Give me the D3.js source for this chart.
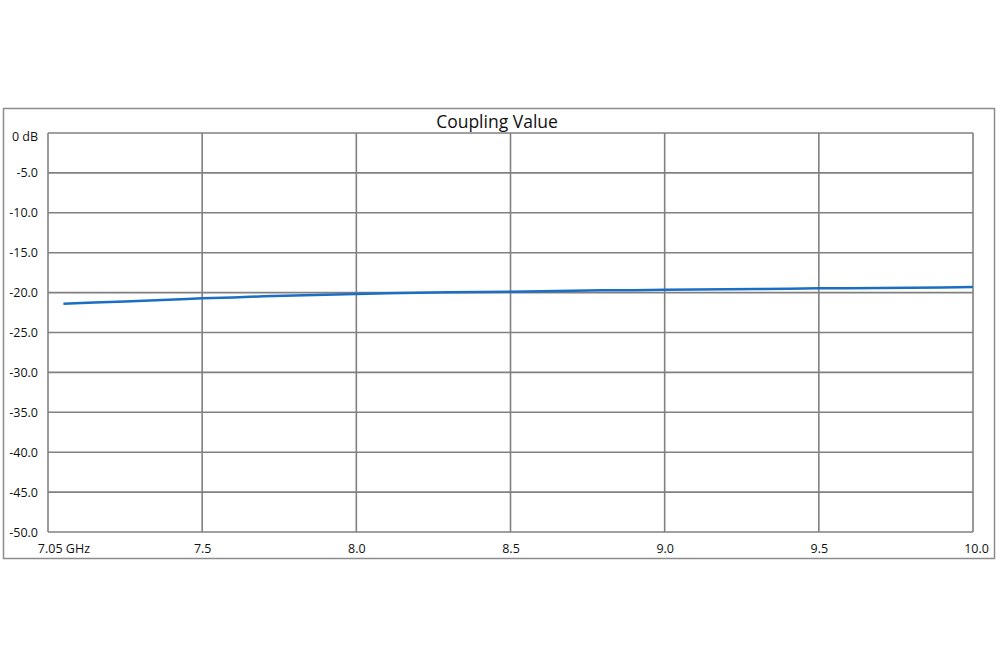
<!DOCTYPE html>
<html>
<head>
<meta charset="utf-8">
<script src="https://cdn.jsdelivr.net/npm/d3@7"></script>
<style>
  body { margin: 0; background: #fff; }
  svg text { font-family: "Open Sans", "Noto Sans", sans-serif; fill: #111; }
</style>
</head>
<body>
<div id="chart"></div>
<script>
var freqs = [7.05, 7.15, 7.25, 7.35, 7.45, 7.5, 7.6, 7.7, 7.8, 7.9, 8.0, 8.1, 8.2, 8.3, 8.4, 8.5,
             8.6, 8.7, 8.8, 8.9, 9.0, 9.1, 9.2, 9.3, 9.4, 9.5, 9.6, 9.7, 9.8, 9.9, 10.0];
var coupling = [-21.4, -21.25, -21.1, -20.95, -20.8, -20.72, -20.6, -20.47, -20.36, -20.26, -20.16, -20.08, -20.02, -19.97, -19.93, -19.88,
                -19.82, -19.77, -19.72, -19.69, -19.65, -19.62, -19.59, -19.55, -19.52, -19.47, -19.44, -19.41, -19.38, -19.35, -19.3];
var xTicks = [7.05, 7.5, 8.0, 8.5, 9.0, 9.5, 10.0];
var xTickLabels = ["7.05 GHz", "7.5", "8.0", "8.5", "9.0", "9.5", "10.0"];
var xGrid = [7.5, 8.0, 8.5, 9.0, 9.5, 10.0];
var yTicks = [0, -5, -10, -15, -20, -25, -30, -35, -40, -45, -50];
var yTickLabels = ["0 dB", "-5.0", "-10.0", "-15.0", "-20.0", "-25.0", "-30.0", "-35.0", "-40.0", "-45.0", "-50.0"];

function drawChart() {
    var width = 1000, height = 667;
    var margin = {top: 133, right: 27, bottom: 135, left: 48};
    var w = width - margin.left - margin.right,
        h = height - margin.top - margin.bottom;

    var svg = d3.select("#chart").append("svg")
        .attr("width", width)
        .attr("height", height);

    // outer frame
    svg.append("rect")
        .attr("x", 3.5).attr("y", 108.5)
        .attr("width", 991).attr("height", 450)
        .attr("fill", "none")
        .attr("stroke", "#8c8c8c")
        .attr("stroke-width", 1.5);

    var g = svg.append("g")
        .attr("transform", "translate(" + margin.left + "," + margin.top + ")");

    var x = d3.scaleLinear().domain([7.0, 10.0]).range([0, w]);
    var y = d3.scaleLinear().domain([-50, 0]).range([h, 0]);

    // horizontal grid
    g.selectAll(".hgrid").data(yTicks).enter().append("line")
        .attr("class", "hgrid")
        .attr("x1", 0).attr("x2", w)
        .attr("y1", function(d) { return y(d); })
        .attr("y2", function(d) { return y(d); })
        .attr("stroke", "#808080")
        .attr("stroke-width", 1.6);

    // vertical grid
    g.selectAll(".vgrid").data(xGrid).enter().append("line")
        .attr("class", "vgrid")
        .attr("y1", 0).attr("y2", h)
        .attr("x1", function(d) { return x(d); })
        .attr("x2", function(d) { return x(d); })
        .attr("stroke", "#808080")
        .attr("stroke-width", 1.6);

    // left border of plot
    g.append("line")
        .attr("x1", 0).attr("x2", 0).attr("y1", 0).attr("y2", h)
        .attr("stroke", "#808080").attr("stroke-width", 1.6);

    // y axis labels
    var yAxis = d3.axisLeft(y)
        .tickValues(yTicks)
        .tickSize(0)
        .tickPadding(10)
        .tickFormat(function(d, i) { return yTickLabels[i]; });
    var ya = g.append("g").call(yAxis);
    ya.select(".domain").remove();
    ya.selectAll("text").style("font-size", "12.5px").attr("fill", "#111");
    ya.selectAll("text").filter(function(d) { return d === 0; }).attr("dy", "0.62em");

    // x axis labels
    var xAxis = d3.axisBottom(x)
        .tickValues(xTicks)
        .tickSize(0)
        .tickPadding(12)
        .tickFormat(function(d, i) { return xTickLabels[i]; });
    var xa = g.append("g")
        .attr("transform", "translate(0," + h + ")")
        .call(xAxis);
    xa.select(".domain").remove();
    xa.selectAll("text").style("font-size", "12.5px").attr("fill", "#111");
    xa.selectAll("text").filter(function(d) { return d === 10.0; }).attr("dx", "3px");

    // title
    g.append("text")
        .attr("x", 449)
        .attr("y", -5)
        .attr("text-anchor", "middle")
        .style("font-size", "17.5px")
        .text("Coupling Value");

    var line = d3.line()
        .x(function(d, i) { return x(freqs[i]); })
        .y(function(d) { return y(d); });

    g.append("path")
        .datum(coupling)
        .attr("fill", "none")
        .attr("stroke", "#1a6fc4")
        .attr("stroke-width", 2.5)
        .attr("d", line);
}

try {
    drawChart();
} catch (err) {
    console.error("Could not draw the graph", err);
}
</script>
</body>
</html>
